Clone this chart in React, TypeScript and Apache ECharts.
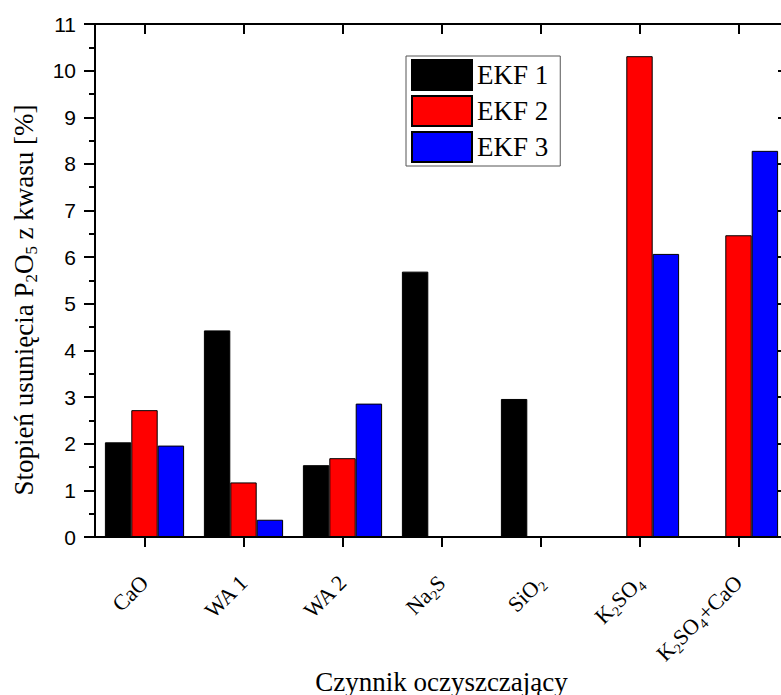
import React, { useEffect, useRef } from "react";
import * as echarts from "echarts";

const categories = ["CaO", "WA 1", "WA 2", "Na2S", "SiO2", "K2SO4", "K2SO4+CaO"];
const categoryRich = [
  "{n|CaO}",
  "{n|WA 1}",
  "{n|WA 2}",
  "{n|Na}{s|2}{n|S}",
  "{n|SiO}{s|2}",
  "{n|K}{s|2}{n|SO}{s|4}",
  "{n|K}{s|2}{n|SO}{s|4}{n|+CaO}",
];
const seriesNames = ["EKF 1", "EKF 2", "EKF 3"];
const ekf1 = [2.03, 4.43, 1.54, 5.69, 2.96, null, null];
const ekf2 = [2.72, 1.17, 1.69, null, null, 10.31, 6.47];
const ekf3 = [1.96, 0.37, 2.86, null, null, 6.07, 8.28];
const colors = ["#000000", "#ff0000", "#0000ff"];
const yTicks = [0, 11, 1];

export default function App() {
  const ref = useRef<HTMLDivElement>(null);
  useEffect(() => {
    if (!ref.current) return;
    const chart = echarts.init(ref.current, null, { renderer: "svg" });
    const serif = "'Liberation Serif', 'Times New Roman', serif";
    const sans = "'Liberation Sans', Arial, sans-serif";
    const axisLine = { show: true, onZero: false, lineStyle: { color: "#000", width: 2 } };
    const data = [ekf1, ekf2, ekf3];
    chart.setOption({
      animation: false,
      backgroundColor: "#fff",
      grid: { left: 95, top: 24, width: 693, height: 513, containLabel: false, outerBoundsMode: "none" },
      legend: {
        left: 406,
        top: 56,
        orient: "vertical",
        data: seriesNames,
        itemWidth: 60,
        itemHeight: 30,
        itemGap: 4,
        padding: [3, 12, 3, 5],
        borderColor: "#555",
        borderWidth: 1,
        textStyle: { fontFamily: serif, fontSize: 27, color: "#000" },
        icon: "rect",
      },
      xAxis: [
        {
          type: "category",
          data: categories,
          position: "bottom",
          axisLine,
          axisTick: { show: true, alignWithLabel: true, length: 10, lineStyle: { color: "#000", width: 2 } },
          axisLabel: {
            rotate: 45,
            margin: 42,
            interval: 0,
            formatter: (_v: string, i: number) => categoryRich[i],
            rich: {
              n: { fontFamily: serif, fontSize: 22, color: "#000", lineHeight: 28 },
              s: { fontFamily: serif, fontSize: 14, color: "#000", verticalAlign: "bottom", lineHeight: 15 },
            },
          },
          name: "Czynnik oczyszczający",
          nameLocation: "middle",
          nameGap: 131,
          nameMoveOverlap: false,
          nameTextStyle: { fontFamily: serif, fontSize: 27, color: "#000" },
          splitLine: { show: false },
        },
        {
          type: "category",
          data: categories,
          position: "top",
          axisLine,
          axisTick: { show: true, inside: true, alignWithLabel: true, length: 10, lineStyle: { color: "#000", width: 2 } },
          axisLabel: { show: false },
          splitLine: { show: false },
        },
      ],
      yAxis: [
        {
          type: "value",
          min: yTicks[0],
          max: yTicks[1],
          interval: yTicks[2],
          position: "left",
          axisLine,
          axisTick: { show: true, length: 11, lineStyle: { color: "#000", width: 2 } },
          minorTick: { show: true, splitNumber: 2, length: 6, lineStyle: { color: "#000", width: 2 } },
          axisLabel: { fontFamily: sans, fontSize: 21, color: "#000", margin: 19 },
          splitLine: { show: false },
        },
        {
          type: "value",
          min: yTicks[0],
          max: yTicks[1],
          interval: yTicks[2],
          position: "right",
          axisLine,
          axisTick: { show: true, inside: true, length: 10, lineStyle: { color: "#000", width: 2 } },
          minorTick: { show: true, splitNumber: 2, length: 6, lineStyle: { color: "#000", width: 2 } },
          axisLabel: { show: false },
          splitLine: { show: false },
        },
      ],
      series: seriesNames.map((name, k) => ({
        name,
        type: "bar",
        data: data[k].map((v) => (v === null ? "-" : v)),
        barGap: "0%",
        barCategoryGap: "20%",
        itemStyle: { color: colors[k], borderColor: "#000", borderWidth: 1 },
        z: 1,
      })),
      graphic: [
        {
          type: "text",
          x: 24,
          y: 300,
          rotation: Math.PI / 2,
          style: {
            text: "{n|Stopień usunięcia P}{s|2}{n|O}{s|5}{n| z kwasu [%]}",
            align: "center",
            verticalAlign: "middle",
            fontFamily: serif,
            fontSize: 27,
            rich: {
              n: { fontFamily: serif, fontSize: 27, fill: "#000", lineHeight: 32 },
              s: { fontFamily: serif, fontSize: 17, fill: "#000", verticalAlign: "bottom", lineHeight: 17 },
            },
          },
        },
      ],
    });
    return () => chart.dispose();
  }, []);
  return <div ref={ref} style={{ position: "fixed", left: 0, top: 0, width: 800, height: 695, overflow: "hidden" }} />;
}
